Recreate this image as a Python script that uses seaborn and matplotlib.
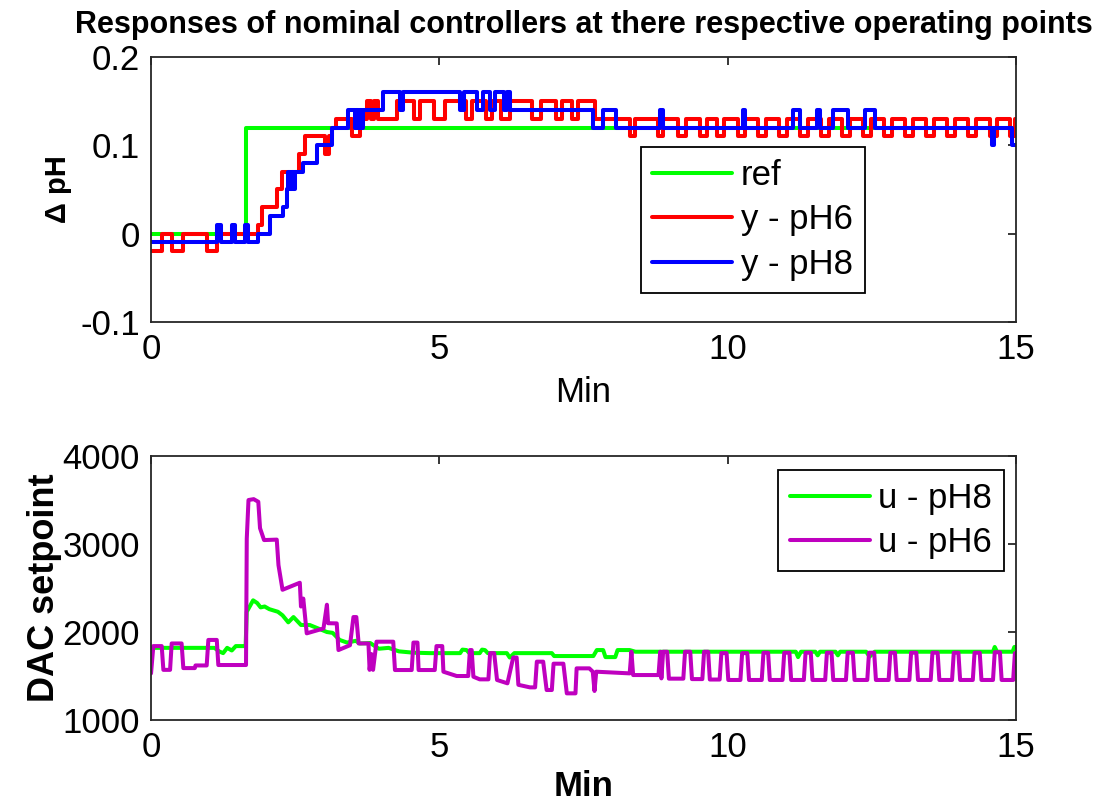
import matplotlib
matplotlib.use("Agg")
import matplotlib.pyplot as plt
import pandas as pd
import seaborn as sns

# ---- upper panel: measured pH deviation (values held until next time stamp) ----
ref_t = [0.0, 1.65, 15.0]
ref_v = [0.0, 0.12, 0.12]

y6_t = [0.0, 0.19, 0.36, 0.56, 0.97, 1.15, 1.86, 1.92, 2.18, 2.27, 2.56, 2.67,
        3.02, 3.08, 3.13, 3.20, 3.48, 3.62, 3.74, 3.82, 3.86, 3.94, 4.26, 4.56,
        4.66, 4.90, 5.09, 5.46, 5.56, 5.80, 5.92, 6.07, 6.22, 6.60, 6.77, 7.03,
        7.12, 7.30, 7.40, 7.70, 8.30, 8.39, 8.79, 8.88, 9.13, 9.28, 9.52, 9.64,
        9.81, 9.93, 10.17, 10.30, 10.52, 10.66, 10.89, 11.02, 11.25, 11.39,
        11.62, 11.75, 11.98, 12.12, 12.35, 12.48, 12.71, 12.85, 13.08, 13.21,
        13.44, 13.58, 13.81, 13.94, 14.17, 14.31, 14.54, 14.67, 14.90, 14.98, 15.0]
y6_v = [-0.02, 0.0, -0.02, 0.0, -0.02, 0.0, 0.01, 0.03, 0.05, 0.07, 0.09, 0.11,
        0.09, 0.11, 0.12, 0.13, 0.11, 0.13, 0.15, 0.13, 0.15, 0.13, 0.15, 0.13,
        0.15, 0.13, 0.15, 0.13, 0.15, 0.13, 0.15, 0.13, 0.15, 0.13, 0.15, 0.13,
        0.15, 0.13, 0.15, 0.13, 0.11, 0.13, 0.11, 0.13, 0.11, 0.13, 0.11, 0.13,
        0.11, 0.13, 0.11, 0.13, 0.11, 0.13, 0.11, 0.13, 0.11, 0.13,
        0.11, 0.13, 0.11, 0.13, 0.11, 0.13, 0.11, 0.13, 0.11, 0.13,
        0.11, 0.13, 0.11, 0.13, 0.11, 0.13, 0.11, 0.13, 0.11, 0.13, 0.13]

y8_t = [0.0, 1.15, 1.21, 1.40, 1.46, 1.63, 1.69, 1.86, 2.06, 2.29, 2.35, 2.38,
        2.41, 2.44, 2.47, 2.50, 2.64, 2.87, 3.13, 3.42, 3.53, 3.56, 3.59, 3.62,
        3.65, 3.68, 4.03, 4.32, 4.37, 5.36, 5.42, 5.65, 5.76, 5.88, 5.96, 6.12,
        6.17, 6.23, 7.67, 7.84, 8.07, 8.83, 8.87, 10.27, 10.30, 11.14, 11.25,
        11.54, 11.60, 11.83, 12.09, 12.38, 12.55, 14.58, 14.61, 14.93, 15.0]
y8_v = [-0.01, 0.01, -0.01, 0.01, -0.01, 0.01, -0.01, 0.0, 0.02, 0.03, 0.05, 0.07,
        0.05, 0.07, 0.05, 0.07, 0.08, 0.10, 0.12, 0.14, 0.12, 0.14, 0.12, 0.14,
        0.12, 0.14, 0.16, 0.14, 0.16, 0.14, 0.16, 0.14, 0.16, 0.14, 0.16, 0.14,
        0.16, 0.14, 0.12, 0.14, 0.12, 0.14, 0.12, 0.14, 0.12, 0.14, 0.12,
        0.14, 0.12, 0.14, 0.12, 0.14, 0.12, 0.10, 0.12, 0.10, 0.10]

# ---- lower panel: DAC setpoint sent by each controller ----
u8_t = [0.0, 1.10, 1.18, 1.25, 1.32, 1.40, 1.47, 1.64, 1.66, 1.77, 1.84, 1.90,
        1.97, 2.05, 2.20, 2.28, 2.38, 2.47, 2.60, 2.75, 2.90, 3.05, 3.15, 3.27,
        3.40, 3.55, 3.62, 3.80, 3.95, 4.12, 4.30, 4.55, 4.84, 5.36, 5.40, 5.47,
        5.52, 5.70, 5.74, 5.79, 5.84, 6.17, 6.22, 6.30, 6.95, 6.99, 7.67, 7.73,
        7.84, 7.88, 8.05, 8.09, 8.30, 8.40, 11.18, 11.22, 11.27, 11.52, 11.56,
        11.60, 11.87, 11.91, 11.95, 12.40, 12.46, 12.55, 14.60, 14.63, 14.67,
        14.94, 14.97, 15.0]
u8_v = [1820, 1820, 1780, 1760, 1820, 1790, 1840, 1840, 2230, 2360, 2330, 2280,
        2290, 2260, 2230, 2190, 2110, 2170, 2080, 2080, 2040, 2000, 1990, 1910,
        1880, 1900, 1870, 1875, 1810, 1820, 1780, 1765, 1760, 1760, 1800, 1795,
        1760, 1760, 1800, 1795, 1760, 1760, 1710, 1760, 1760, 1727, 1727, 1795,
        1795, 1715, 1715, 1795, 1795, 1776, 1776, 1715, 1776, 1776, 1735,
        1776, 1776, 1735, 1776, 1776, 1720, 1776, 1776, 1830, 1776,
        1776, 1830, 1830]

u6_t = [0.0, 0.04, 0.185, 0.214, 0.33, 0.358, 0.53, 0.56, 0.76, 0.77, 0.965,
        0.994, 1.14, 1.167, 1.647, 1.66, 1.69, 1.78, 1.86, 1.89, 1.96, 2.18, 2.21,
        2.28, 2.58, 2.60, 2.64, 2.70, 2.99, 3.05, 3.07, 3.22, 3.25, 3.45, 3.51,
        3.56, 3.60, 3.77, 3.79, 3.82, 3.85, 3.91, 4.20, 4.23, 4.52, 4.55, 4.62,
        4.64, 4.92, 4.95, 5.05, 5.07, 5.30, 5.50, 5.53, 5.56, 5.59, 5.70, 5.85,
        5.88, 5.95, 6.00, 6.18, 6.28, 6.34, 6.37, 6.57, 6.66, 6.69, 6.80, 6.86,
        6.95, 6.98, 7.15, 7.21, 7.36, 7.38, 7.60, 7.66, 7.69, 7.72, 8.30, 8.33,
        8.36, 8.80, 8.83, 8.85, 8.88, 8.95, 8.98, 9.23, 9.26, 9.35, 9.38, 9.56,
        9.59, 9.66, 9.69,
        9.86, 9.89, 9.98, 10.01, 10.22, 10.25, 10.34, 10.37, 10.59, 10.62, 10.70,
        10.73, 10.95, 10.98, 11.07, 11.10, 11.32, 11.35, 11.44, 11.47, 11.69,
        11.72, 11.80, 11.83, 12.05, 12.08, 12.17, 12.20, 12.42, 12.45, 12.54,
        12.57, 12.79, 12.82, 12.90, 12.93, 13.15, 13.18, 13.27, 13.30, 13.52,
        13.55, 13.64, 13.67, 13.89, 13.92, 14.00, 14.03, 14.25, 14.28, 14.37,
        14.40, 14.60, 14.63, 14.72, 14.75, 14.95, 14.98, 15.0]
u6_v = [1530, 1840, 1840, 1570, 1570, 1870, 1870, 1590, 1590, 1620, 1620,
        1910, 1910, 1625, 1625, 3060, 3500, 3510, 3480, 3180, 3045, 3050, 2760,
        2480, 2560, 2290, 2380, 1985, 2040, 2310, 2100, 2098, 1795, 1850, 2170,
        2170, 1870, 1870, 1570, 1750, 1570, 1890, 1890, 1568, 1568, 1880, 1880,
        1568, 1568, 1840, 1840, 1549, 1500, 1500, 1795, 1795, 1492, 1462, 1462,
        1760, 1760, 1455, 1417, 1710, 1710, 1400, 1371, 1371, 1663, 1663, 1341,
        1341, 1640, 1640, 1303, 1303, 1587, 1587, 1549, 1330, 1549, 1530, 1776,
        1511, 1511, 1776, 1473, 1776, 1776, 1470, 1470, 1776, 1776, 1465, 1465,
        1776, 1776, 1460,
        1460, 1760, 1760, 1455, 1455, 1760, 1760, 1455, 1455, 1765, 1765,
        1455, 1455, 1765, 1765, 1455, 1455, 1765, 1765, 1455, 1455,
        1765, 1765, 1455, 1455, 1765, 1765, 1455, 1455, 1765, 1765,
        1455, 1455, 1765, 1765, 1455, 1455, 1765, 1765, 1455, 1455,
        1765, 1765, 1455, 1455, 1765, 1765, 1455, 1455, 1765, 1765,
        1455, 1455, 1770, 1770, 1455, 1455, 1760, 1760]

GREEN, RED, BLUE, MAGENTA = "#00ff00", "#ff0000", "#0000ff", "#bf00bf"
LW = 2.9

sns.set_style("white")
plt.rcParams["font.family"] = ["Liberation Sans", "DejaVu Sans"]
plt.rcParams["axes.unicode_minus"] = False
for key in ("text.color", "axes.labelcolor", "xtick.color", "ytick.color"):
    plt.rcParams[key] = "black"

fig = plt.figure(figsize=(11.13, 8.09), dpi=100)
ax1 = fig.add_axes([0.1357, 0.602, 0.7772, 0.3276])
ax2 = fig.add_axes([0.1357, 0.110, 0.7772, 0.3263])

def frame(t, v):
    return pd.DataFrame({"t": t, "v": v})

sns.lineplot(data=frame(ref_t, ref_v), x="t", y="v", ax=ax1, color=GREEN,
             lw=LW, drawstyle="steps-post", estimator=None, sort=False, label="ref")
sns.lineplot(data=frame(y6_t, y6_v), x="t", y="v", ax=ax1, color=RED,
             lw=LW, drawstyle="steps-post", estimator=None, sort=False, label="y - pH6")
sns.lineplot(data=frame(y8_t, y8_v), x="t", y="v", ax=ax1, color=BLUE,
             lw=LW, drawstyle="steps-post", estimator=None, sort=False, label="y - pH8")

sns.lineplot(data=frame(u8_t, u8_v), x="t", y="v", ax=ax2, color=GREEN,
             lw=LW, estimator=None, sort=False, label="u - pH8")
sns.lineplot(data=frame(u6_t, u6_v), x="t", y="v", ax=ax2, color=MAGENTA,
             lw=LW, estimator=None, sort=False, label="u - pH6")

FS = 25
for ax in (ax1, ax2):
    ax.set_xlim(0, 15)
    ax.set_xticks([0, 5, 10, 15])
    ax.tick_params(direction="in", length=6, width=1.1, top=True, right=True,
                   labelsize=FS, pad=8)
    for s in ax.spines.values():
        s.set_visible(True)
        s.set_linewidth(1.3)
        s.set_color("#262626")

ax1.set_ylim(-0.1, 0.2)
ax1.set_yticks([-0.1, 0.0, 0.1, 0.2])
ax1.set_yticklabels(["-0.1", "0", "0.1", "0.2"])
ax2.set_ylim(1000, 4000)
ax2.set_yticks([1000, 2000, 3000, 4000])

ax1.set_title("Responses of nominal controllers at there respective operating points",
              fontsize=22, fontweight="bold", pad=17, color="black")
ax1.set_xlabel("Min", fontsize=FS, labelpad=7)
ax1.set_ylabel("\u0394 pH", fontsize=21, fontweight="bold", labelpad=6)
ax2.set_xlabel("Min", fontsize=FS, fontweight="bold", labelpad=4)
ax2.set_ylabel("DAC setpoint", fontsize=26, fontweight="bold", labelpad=0)

leg_kw = dict(fontsize=FS, frameon=True, fancybox=False, framealpha=1,
              edgecolor="black", handlelength=2.3, handletextpad=0.25,
              labelspacing=0.33, borderpad=0.34, borderaxespad=0)
l1 = ax1.legend(loc="upper left", bbox_to_anchor=(0.566, 0.660), **leg_kw)
l2 = ax2.legend(loc="upper right", bbox_to_anchor=(0.986, 0.947), **leg_kw)
for lg in (l1, l2):
    lg.get_frame().set_linewidth(1.3)
    for h in lg.get_lines():
        h.set_linewidth(LW)

fig.savefig("out.png", dpi=100)
